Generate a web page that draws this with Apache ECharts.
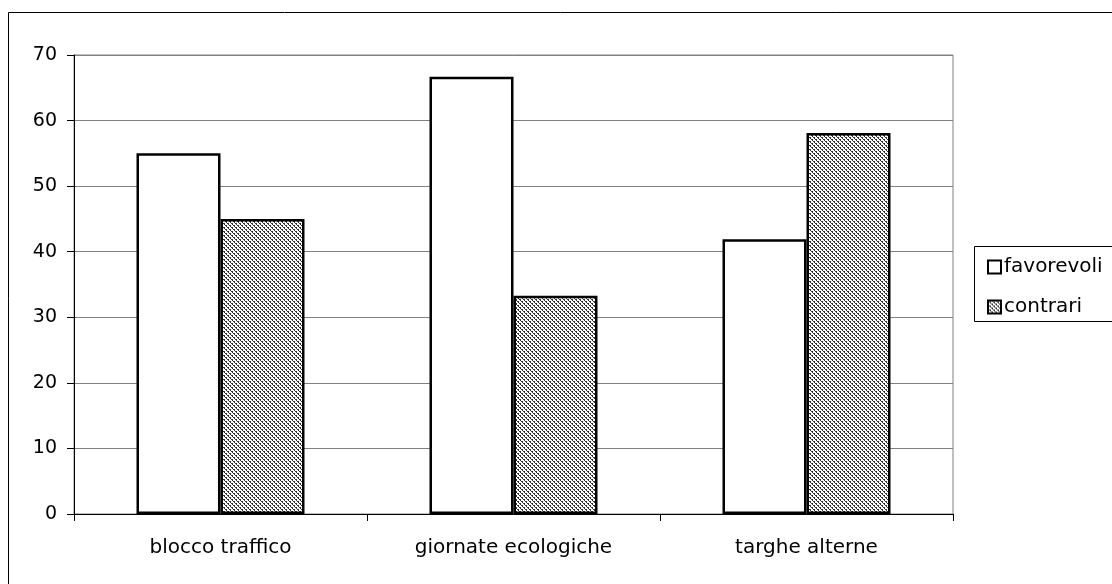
<!DOCTYPE html>
<html>
<head>
<meta charset="utf-8">
<script src="https://cdn.jsdelivr.net/npm/echarts@6/dist/echarts.min.js"></script>
<style>
  html, body { margin: 0; padding: 0; background: #fff; }
  #chart { width: 1112px; height: 584px; }
</style>
</head>
<body>
<div id="chart"></div>
<script>
const categories = ['blocco traffico', 'giornate ecologiche', 'targhe alterne'];
const favorevoli = [55, 66.7, 41.9];
const contrari = [45, 33.3, 58.1];
const yTicks = [0, 10, 20, 30, 40, 50, 60, 70];

// Fine diagonal dither fill for the second series
function makeHatch() {
  const c = document.createElement('canvas');
  c.width = 4; c.height = 4;
  const ctx = c.getContext('2d');
  ctx.fillStyle = '#ffffff';
  ctx.fillRect(0, 0, 4, 4);
  ctx.fillStyle = '#333333';
  for (let y = 0; y < 4; y++) {
    for (let x = 0; x < 4; x++) {
      const onChecker = (x + y) % 2 === 0;
      const gap = ((x - y) % 4 + 4) % 4 === 2;
      if (onChecker && !gap) ctx.fillRect(x, y, 1, 1);
      if (((x - y) % 4 + 4) % 4 === 1 && (x % 2 === 0)) ctx.fillRect(x, y, 1, 1);
    }
  }
  return c;
}
const hatch = { image: makeHatch(), repeat: 'repeat' };

const FONT = 'DejaVu Sans';
const chart = echarts.init(document.getElementById('chart'), null, { renderer: 'canvas' });

chart.setOption({
  animation: false,
  backgroundColor: '#ffffff',
  textStyle: { fontFamily: FONT, color: '#000' },
  graphic: [
    { type: 'rect', shape: { x: 8.5, y: 12.5, width: 1200, height: 700 },
      style: { fill: 'none', stroke: '#000', lineWidth: 1 }, silent: true, z: -1 },
    { type: 'rect', shape: { x: 974.5, y: 246.5, width: 200, height: 75 },
      style: { fill: '#fff', stroke: '#000', lineWidth: 1 }, silent: true, z: 0 }
  ],
  legend: {
    orient: 'vertical',
    left: 982,
    top: 252,
    itemWidth: 13,
    itemHeight: 13,
    itemGap: 20,
    icon: 'rect',
    textStyle: { fontFamily: FONT, fontSize: 20, color: '#000', padding: [0, 0, 0, -2] },
    z: 5,
    data: [
      { name: 'favorevoli', itemStyle: { color: '#fff', borderColor: '#000', borderWidth: 2 } },
      { name: 'contrari', itemStyle: { color: hatch, borderColor: '#000', borderWidth: 2 } }
    ]
  },
  grid: {
    left: 74, right: 159, top: 55, bottom: 70,
    show: true, borderColor: '#808080', borderWidth: 1
  },
  xAxis: {
    type: 'category',
    data: categories,
    axisLine: { lineStyle: { color: '#000', width: 1 } },
    axisTick: { show: true, length: 7, lineStyle: { color: '#000' } },
    axisLabel: { fontFamily: FONT, fontSize: 20, color: '#000', margin: 24 },
    splitLine: { show: false }
  },
  yAxis: {
    type: 'value',
    min: yTicks[0],
    max: yTicks[yTicks.length - 1],
    interval: yTicks[1] - yTicks[0],
    axisLine: { show: true, lineStyle: { color: '#000', width: 1 } },
    axisTick: { show: true, length: 7, lineStyle: { color: '#000' } },
    axisLabel: { fontFamily: FONT, fontSize: 19, color: '#000', margin: 17 },
    splitLine: { show: true, lineStyle: { color: '#808080', width: 1 } }
  },
  series: [
    {
      name: 'favorevoli', type: 'bar', data: favorevoli,
      barWidth: 84, barGap: '0%',
      itemStyle: { color: '#fff', borderColor: '#000', borderWidth: 2.5 }
    },
    {
      name: 'contrari', type: 'bar', data: contrari,
      barWidth: 84, barGap: '0%',
      itemStyle: { color: hatch, borderColor: '#000', borderWidth: 2.5 }
    }
  ]
});
</script>
</body>
</html>
